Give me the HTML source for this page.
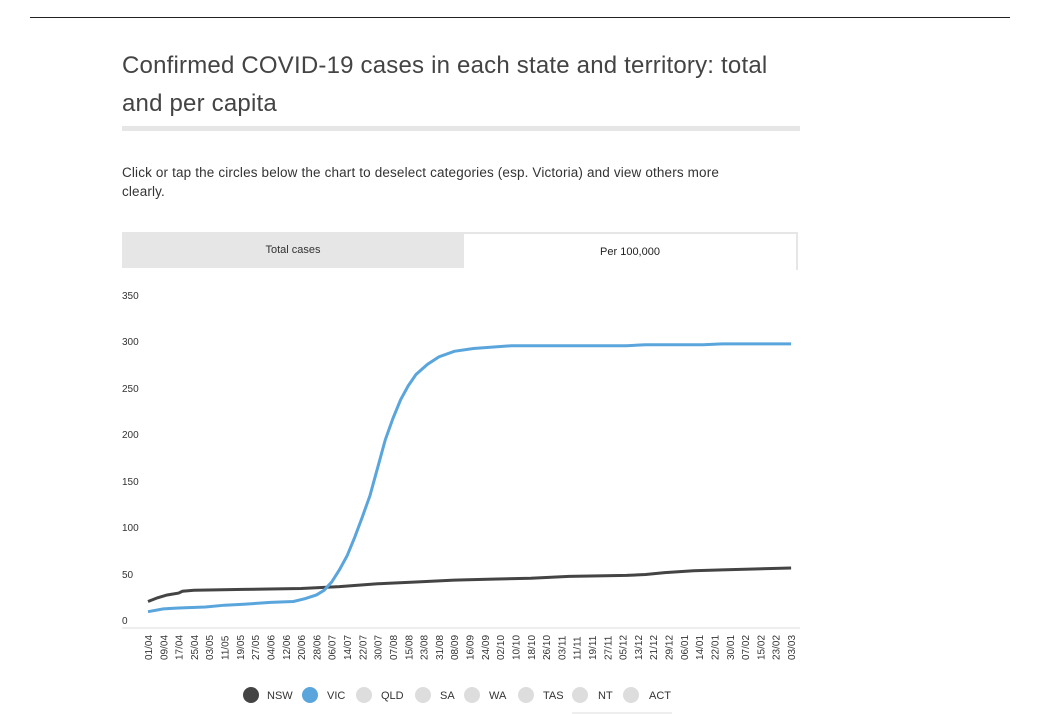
<!DOCTYPE html>
<html><head><style>
body{margin:0;width:1044px;height:714px;background:#fff;font-family:"Liberation Sans",sans-serif;position:relative;overflow:hidden}
.a{position:absolute}
</style></head><body>
<div class="a" style="left:30px;top:17px;width:980px;height:1px;background:#222"></div>
<div class="a" style="left:122px;top:47px;font-size:24px;color:#444;line-height:38px;width:680px;letter-spacing:0.2px">Confirmed COVID-19 cases in each state and territory: total and per capita</div>
<div class="a" style="left:122px;top:126px;width:678px;height:5px;background:#e6e6e6"></div>
<div class="a" style="left:122px;top:163px;font-size:13.5px;color:#333;line-height:19px;width:640px;letter-spacing:0.15px">Click or tap the circles below the chart to deselect categories (esp. Victoria) and view others more clearly.</div>
<div class="a" style="left:122px;top:232px;width:342px;height:36px;background:#e6e6e6;font-size:11px;color:#333;text-align:center;line-height:36px">Total cases</div>
<div class="a" style="left:464px;top:232px;width:332px;height:36px;border:2px solid #e6e6e6;border-bottom:none;border-left:none;background:#fff;font-size:11px;color:#222;text-align:center;line-height:36px">Per 100,000</div>
<svg class="a" style="left:0;top:0" width="1044" height="714" font-family="Liberation Sans, sans-serif" font-size="10" fill="#333">
<g>
<text x="122" y="299">350</text><text x="122" y="345">300</text><text x="122" y="392">250</text>
<text x="122" y="438">200</text><text x="122" y="485">150</text><text x="122" y="531">100</text>
<text x="122" y="578">50</text><text x="122" y="624">0</text>
</g>
<line x1="122" y1="628" x2="800" y2="628" stroke="#ddd"/>
<g id="xl"></g>
<g transform="translate(148,621) scale(1.914,-0.93)" fill="none" stroke-width="3">
<polyline vector-effect="non-scaling-stroke" stroke="#444" points="0,21 5,25 10,28 16,30 18,32 24,33 50,34 80,35 100,37 120,40 140,42 160,44 180,45 200,46 220,48 250,49 260,50 270,52 285,54 300,55 336,57"/>
<polyline vector-effect="non-scaling-stroke" stroke="#5aa5dc" points="0,10 8,13 16,14 30,15 40,17 50,18 64,20 76,21 82,24 88,28 92,33 96,42 100,55 104,70 108,90 112,112 116,135 120,165 124,195 128,218 132,238 136,253 140,265 146,276 152,284 160,290 170,293 190,296 250,296 260,297 290,297 300,298 336,298"/>
</g>
<g font-size="11" fill="#333">
<circle cx="251" cy="695" r="8" fill="#444"/><text x="267" y="699">NSW</text>
<circle cx="310" cy="695" r="8" fill="#5aa5dc"/><text x="327" y="699">VIC</text>
<circle cx="364" cy="695" r="8" fill="#ddd"/><text x="381" y="699">QLD</text>
<circle cx="423" cy="695" r="8" fill="#ddd"/><text x="440" y="699">SA</text>
<circle cx="472" cy="695" r="8" fill="#ddd"/><text x="489" y="699">WA</text>
<circle cx="526" cy="695" r="8" fill="#ddd"/><text x="543" y="699">TAS</text>
<circle cx="580" cy="695" r="8" fill="#ddd"/><text x="598" y="699">NT</text>
<circle cx="631" cy="695" r="8" fill="#ddd"/><text x="649" y="699">ACT</text>
</g>
<rect x="572" y="712" width="100" height="4" fill="#eee"/>
</svg>
<script>
var L="01/04 09/04 17/04 25/04 03/05 11/05 19/05 27/05 04/06 12/06 20/06 28/06 06/07 14/07 22/07 30/07 07/08 15/08 23/08 31/08 08/09 16/09 24/09 02/10 10/10 18/10 26/10 03/11 11/11 19/11 27/11 05/12 13/12 21/12 29/12 06/01 14/01 22/01 30/01 07/02 15/02 23/02 03/03".split(" ");
var g=document.getElementById("xl"),s="";
L.forEach(function(t,i){var x=148+i*15.31+4;s+='<text font-size="10" transform="translate('+x+',660) rotate(-90)">'+t+'</text>';});
g.innerHTML=s;
</script>
</body></html>
